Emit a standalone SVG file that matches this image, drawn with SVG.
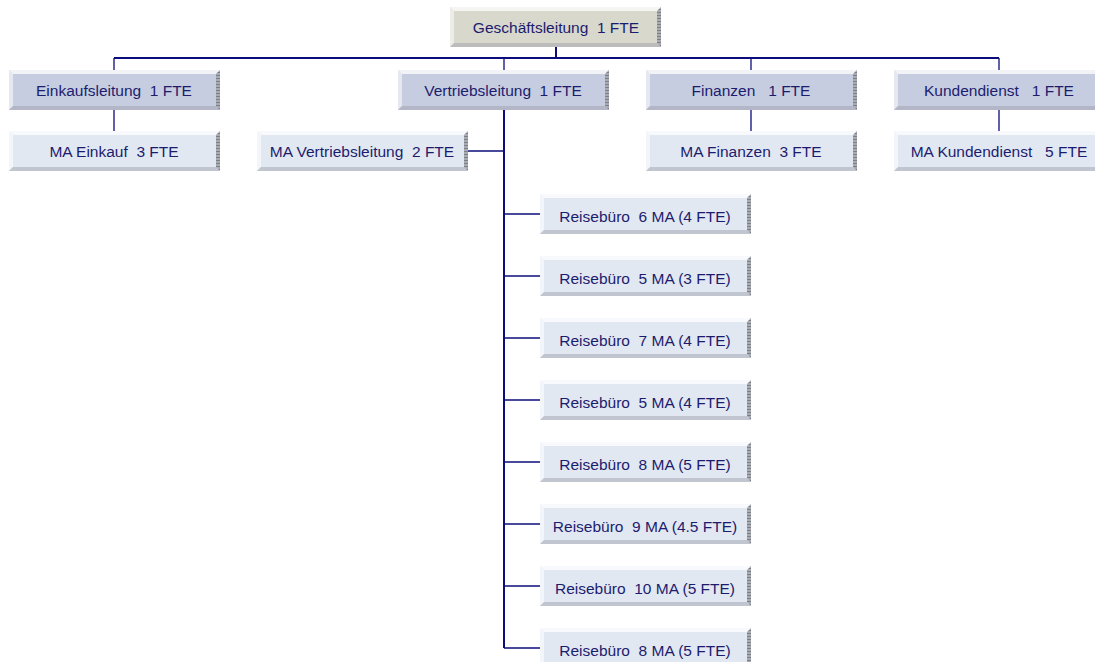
<svg xmlns="http://www.w3.org/2000/svg" xmlns:xlink="http://www.w3.org/1999/xlink" width="1095" height="662" viewBox="0 0 1095 662">
<style>
  .face0 { fill: #d8d8cd; }
  .face1 { fill: #c6cde0; }
  .face2 { fill: #e2e8f2; }
  .lbl { font-family: "Liberation Sans", Arial, sans-serif; font-size: 15.5px; fill: #1c1c6e; text-anchor: middle; white-space: pre; }
  .trunk { stroke: #0c0c7a; stroke-width: 2; fill: none; }
  .branch { stroke: #0c0c7a; stroke-width: 1.3; fill: none; }
</style>
<defs>
  <pattern id="hatch" width="4" height="3" patternUnits="userSpaceOnUse">
    <rect width="4" height="3" fill="#a9abb3"/>
    <rect y="2" width="4" height="1" fill="#7e8088"/>
  </pattern>
  <g id="bevel">
    <polygon points="0,0 211,0 207,4 4,4" fill="#ffffff" fill-opacity="0.75"/>
    <polygon points="0,0 4,4 4,36 0,40" fill="#ffffff" fill-opacity="0.55"/>
    <polygon points="211,0 211,40 207,36 207,4" fill="url(#hatch)"/>
    <polygon points="0,40 211,40 207,36 4,36" fill="#9a9ca6" fill-opacity="0.45"/>
  </g>
</defs>
<rect width="1095" height="662" fill="#ffffff"/>

<g id="connectors">
  <line class="trunk" x1="556" y1="46" x2="556" y2="58"/>
  <line class="trunk" x1="114" y1="58" x2="999" y2="58"/>
  <line class="branch" x1="114" y1="58" x2="114" y2="70"/>
  <line class="branch" x1="504" y1="58" x2="504" y2="70"/>
  <line class="branch" x1="751" y1="58" x2="751" y2="70"/>
  <line class="branch" x1="999" y1="58" x2="999" y2="70"/>
  <line class="branch" x1="114" y1="110" x2="114" y2="131"/>
  <line class="branch" x1="751" y1="110" x2="751" y2="131"/>
  <line class="branch" x1="999" y1="110" x2="999" y2="131"/>
  <line class="trunk" x1="504" y1="110" x2="504" y2="648"/>
  <line class="branch" x1="468" y1="151" x2="504" y2="151"/>
  <line class="branch" x1="504" y1="214" x2="540" y2="214"/>
  <line class="branch" x1="504" y1="276" x2="540" y2="276"/>
  <line class="branch" x1="504" y1="338" x2="540" y2="338"/>
  <line class="branch" x1="504" y1="400" x2="540" y2="400"/>
  <line class="branch" x1="504" y1="462" x2="540" y2="462"/>
  <line class="branch" x1="504" y1="524" x2="540" y2="524"/>
  <line class="branch" x1="504" y1="586" x2="540" y2="586"/>
  <line class="branch" x1="504" y1="648" x2="540" y2="648"/>
</g>

<g id="n-gl">
  <rect class="face0" x="450" y="7" width="211" height="40"/>
  <use xlink:href="#bevel" x="450" y="7"/>
  <text class="lbl" x="556" y="33">Geschäftsleitung  1 FTE</text>
</g>
<g id="n-einkauf">
  <rect class="face1" x="9" y="70" width="211" height="40"/>
  <use xlink:href="#bevel" x="9" y="70"/>
  <text class="lbl" x="114" y="96">Einkaufsleitung  1 FTE</text>
</g>
<g id="n-vertrieb">
  <rect class="face1" x="398" y="70" width="211" height="40"/>
  <use xlink:href="#bevel" x="398" y="70"/>
  <text class="lbl" x="503" y="96">Vertriebsleitung  1 FTE</text>
</g>
<g id="n-finanzen">
  <rect class="face1" x="646" y="70" width="211" height="40"/>
  <use xlink:href="#bevel" x="646" y="70"/>
  <text class="lbl" x="751" y="96">Finanzen   1 FTE</text>
</g>
<g id="n-kunden">
  <rect class="face1" x="894" y="70" width="211" height="40"/>
  <use xlink:href="#bevel" x="894" y="70"/>
  <text class="lbl" x="999" y="96">Kundendienst   1 FTE</text>
</g>
<g id="n-ma-einkauf">
  <rect class="face2" x="9" y="131" width="211" height="40"/>
  <use xlink:href="#bevel" x="9" y="131"/>
  <text class="lbl" x="114" y="157">MA Einkauf  3 FTE</text>
</g>
<g id="n-ma-vertrieb">
  <rect class="face2" x="257" y="131" width="211" height="40"/>
  <use xlink:href="#bevel" x="257" y="131"/>
  <text class="lbl" x="362" y="157">MA Vertriebsleitung  2 FTE</text>
</g>
<g id="n-ma-finanzen">
  <rect class="face2" x="646" y="131" width="211" height="40"/>
  <use xlink:href="#bevel" x="646" y="131"/>
  <text class="lbl" x="751" y="157">MA Finanzen  3 FTE</text>
</g>
<g id="n-ma-kunden">
  <rect class="face2" x="894" y="131" width="211" height="40"/>
  <use xlink:href="#bevel" x="894" y="131"/>
  <text class="lbl" x="999" y="157">MA Kundendienst   5 FTE</text>
</g>
<g id="n-rb1">
  <rect class="face2" x="540" y="194" width="211" height="40"/>
  <use xlink:href="#bevel" x="540" y="194"/>
  <text class="lbl" x="645" y="222">Reisebüro  6 MA (4 FTE)</text>
</g>
<g id="n-rb2">
  <rect class="face2" x="540" y="256" width="211" height="40"/>
  <use xlink:href="#bevel" x="540" y="256"/>
  <text class="lbl" x="645" y="284">Reisebüro  5 MA (3 FTE)</text>
</g>
<g id="n-rb3">
  <rect class="face2" x="540" y="318" width="211" height="40"/>
  <use xlink:href="#bevel" x="540" y="318"/>
  <text class="lbl" x="645" y="346">Reisebüro  7 MA (4 FTE)</text>
</g>
<g id="n-rb4">
  <rect class="face2" x="540" y="380" width="211" height="40"/>
  <use xlink:href="#bevel" x="540" y="380"/>
  <text class="lbl" x="645" y="408">Reisebüro  5 MA (4 FTE)</text>
</g>
<g id="n-rb5">
  <rect class="face2" x="540" y="442" width="211" height="40"/>
  <use xlink:href="#bevel" x="540" y="442"/>
  <text class="lbl" x="645" y="470">Reisebüro  8 MA (5 FTE)</text>
</g>
<g id="n-rb6">
  <rect class="face2" x="540" y="504" width="211" height="40"/>
  <use xlink:href="#bevel" x="540" y="504"/>
  <text class="lbl" x="645" y="532">Reisebüro  9 MA (4.5 FTE)</text>
</g>
<g id="n-rb7">
  <rect class="face2" x="540" y="566" width="211" height="40"/>
  <use xlink:href="#bevel" x="540" y="566"/>
  <text class="lbl" x="645" y="594">Reisebüro  10 MA (5 FTE)</text>
</g>
<g id="n-rb8">
  <rect class="face2" x="540" y="628" width="211" height="40"/>
  <use xlink:href="#bevel" x="540" y="628"/>
  <text class="lbl" x="645" y="656">Reisebüro  8 MA (5 FTE)</text>
</g>
</svg>
